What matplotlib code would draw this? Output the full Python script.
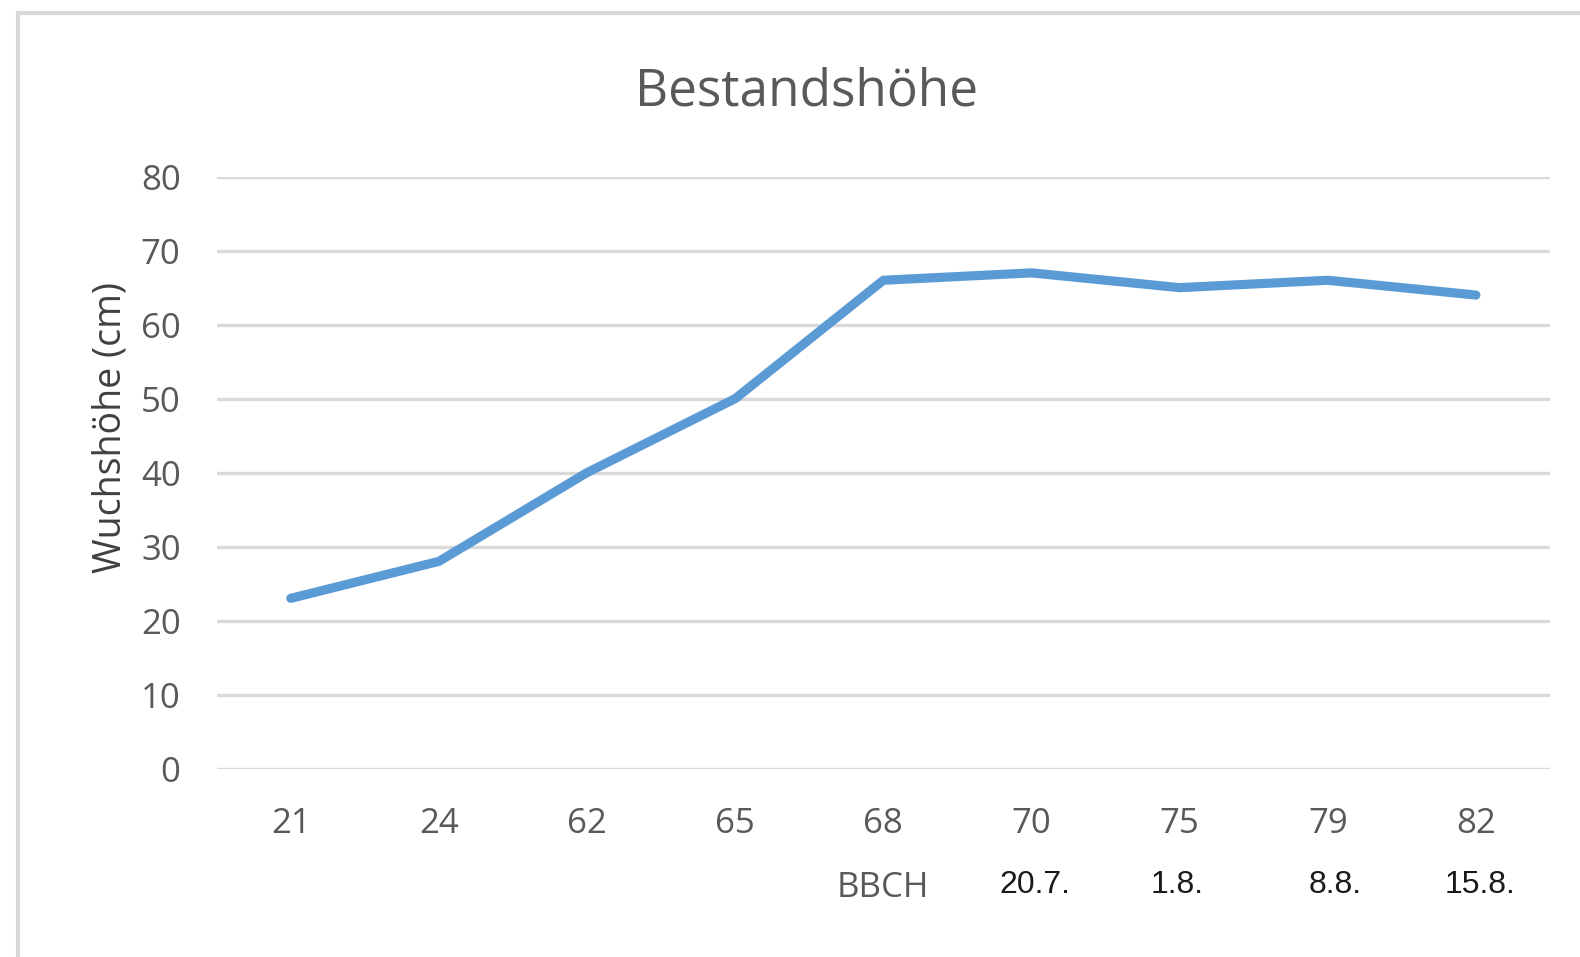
import matplotlib
matplotlib.use("Agg")
import matplotlib.pyplot as plt
from matplotlib.patches import Rectangle
import matplotlib.transforms as mtransforms

# ---- data ----
bbch_stages = ["21", "24", "62", "65", "68", "70", "75", "79", "82"]
heights_cm = [23, 28, 40, 50, 66, 67, 65, 66, 64]
y_ticks = [0, 10, 20, 30, 40, 50, 60, 70, 80]
date_labels = ["20.7.", "1.8.", "8.8.", "15.8."]
date_stage_idx = [5, 6, 7, 8]
title_text = "Bestandshöhe"
ylabel_text = "Wuchshöhe (cm)"
xextra_text = "BBCH"

W, H = 1580, 957
fig = plt.figure(figsize=(W / 100, H / 100), dpi=100)
fig.patch.set_facecolor("white")

# outer chart frame (cropped on right and bottom)
frame = Rectangle((17.5 / W, -0.2), 2.0, 1.2 - 13 / H,
                  transform=fig.transFigure, fill=False,
                  edgecolor="#d9d9d9", linewidth=3.0, zorder=0)
fig.patches.append(frame)

left, right = 216.7 / W, 1550 / W
bottom, top = 1 - 768.5 / H, 1 - 176.7 / H
ax = fig.add_axes([left, bottom, right - left, top - bottom])

x = list(range(len(bbch_stages)))
ax.plot(x, heights_cm, color="#5B9BD5", linewidth=6.6,
        solid_capstyle="round", solid_joinstyle="round", zorder=3)

ax.set_xlim(-0.5, len(bbch_stages) - 0.5)
ax.set_ylim(0, 80)
ax.set_yticks(y_ticks)
ax.set_xticks(x)
ax.set_xticklabels(bbch_stages)
ax.grid(axis="y", color="#d9d9d9", linewidth=2.4, zorder=1)
ax.set_axisbelow(True)
for s in ax.spines.values():
    s.set_visible(False)
ax.tick_params(axis="both", length=0, colors="#595959", labelsize=25)
ax.tick_params(axis="y", pad=26)
ax.tick_params(axis="x", pad=27.5)
for lab in ax.get_xticklabels() + ax.get_yticklabels():
    lab.set_fontfamily("Open Sans")

# title
fig.text(807 / W, 1 - 92 / H, title_text, ha="center", va="center",
         fontsize=37, color="#595959", family="Open Sans")

# y label
fig.text(111 / W, 1 - 427 / H, ylabel_text, ha="center", va="center",
         rotation=90, fontsize=27, color="#404040", family="Open Sans")

# BBCH under the 68 category and dates under later stages
trans = mtransforms.blended_transform_factory(ax.transData, fig.transFigure)
ax.text(4, 1 - 888 / H, xextra_text, transform=trans, ha="center",
        va="center", fontsize=25, color="#595959", family="Open Sans")
date_dx = [0.02, -0.02, 0.05, 0.03]
for i, lab, dx in zip(date_stage_idx, date_labels, date_dx):
    ax.text(i + dx, 1 - 885 / H, lab, transform=trans, ha="center",
            va="center", fontsize=23, color="#1a1a1a",
            family="Liberation Sans")

fig.savefig("out.png", dpi=100, facecolor="white")
